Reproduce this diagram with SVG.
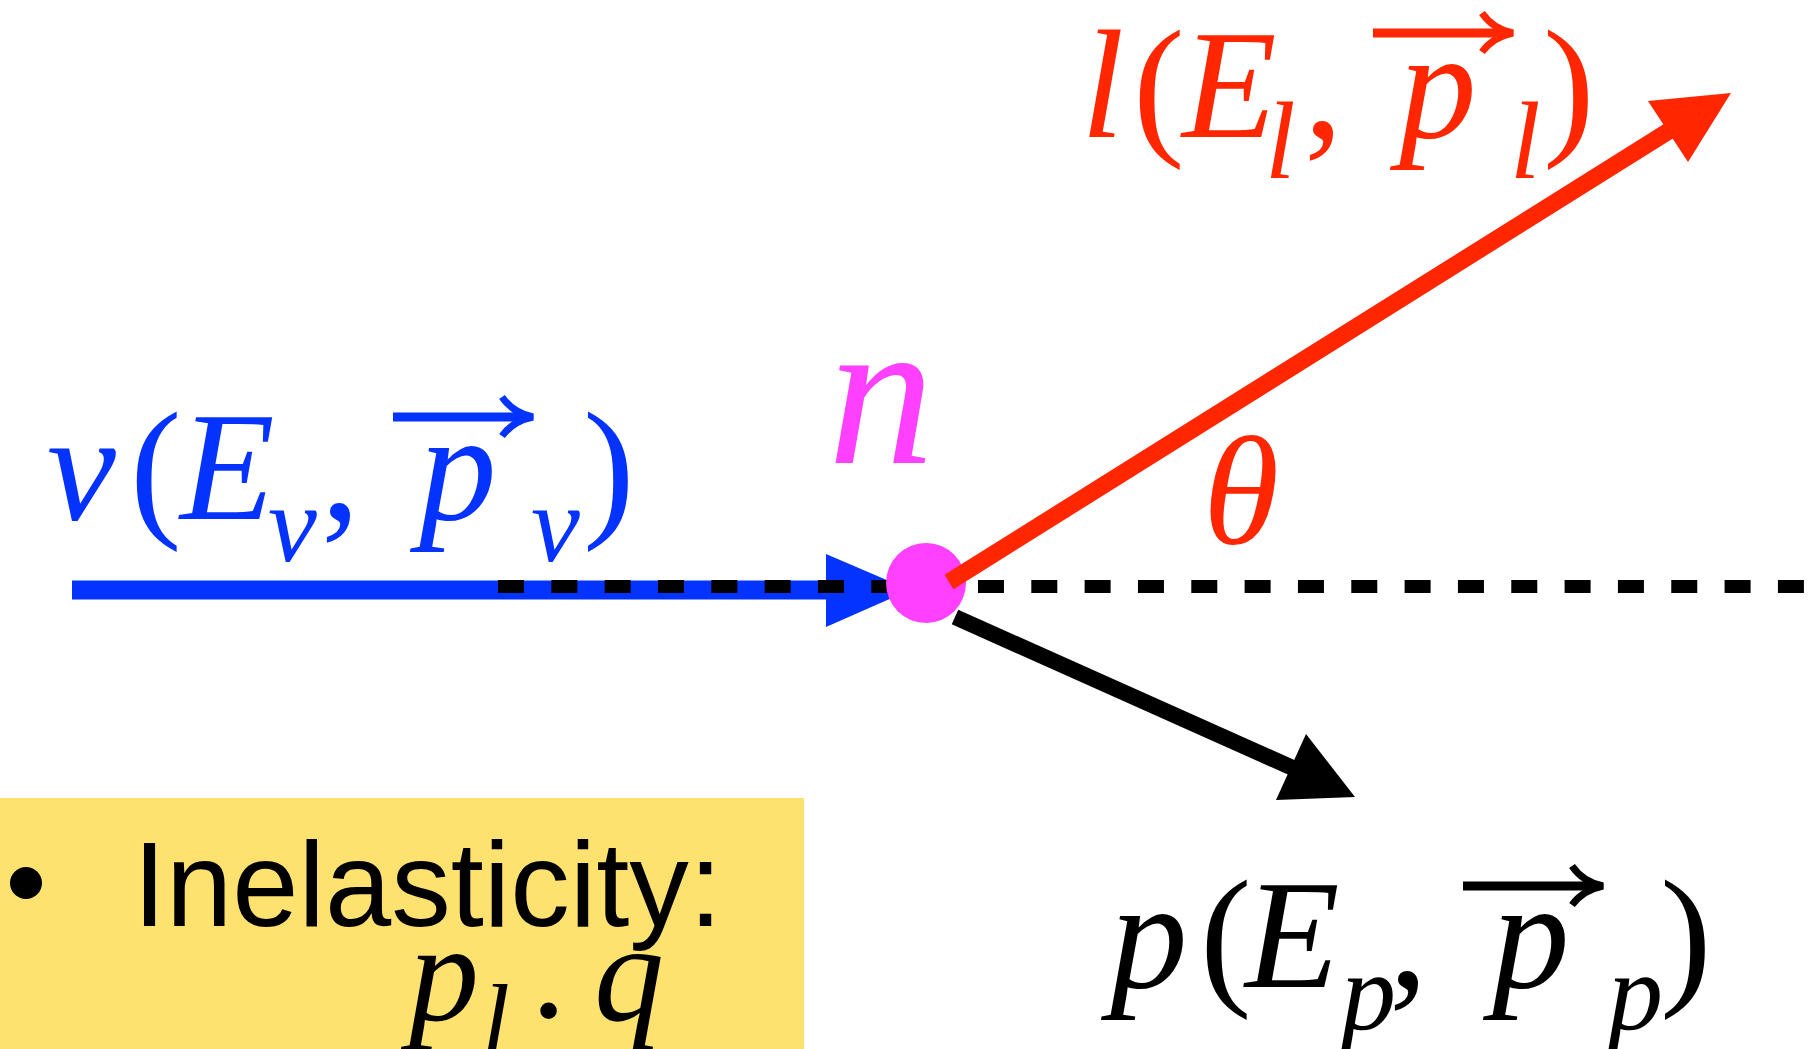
<svg xmlns="http://www.w3.org/2000/svg" xmlns:xlink="http://www.w3.org/1999/xlink" width="1819" height="1049" viewBox="0 0 1819 1049">
<style>
.m{font-family:"Liberation Serif","Times New Roman",serif;font-style:italic;font-size:155px}
.r{font-family:"Liberation Serif","Times New Roman",serif;font-style:normal;font-size:155px}
.s{font-family:"Liberation Serif","Times New Roman",serif;font-style:italic;font-size:110px}
.blue{fill:#0433ff}.red{fill:#ff2600}.blk{fill:#000}.pink{fill:#ff40ff}
</style>
<defs>
<g id="vec">
<line x1="-140" y1="0" x2="-6" y2="0" stroke-width="9"/>
<path d="M-31,-20 Q-20,-4 0,0 Q-20,4 -31,19" fill="none" stroke-width="7"/>
</g>
</defs>
<rect id="box" x="0" y="798" width="804" height="251" fill="#fee270"/>
<g id="connectors">
<line x1="72" y1="590" x2="840" y2="590" stroke="#0433ff" stroke-width="19"/>
<polygon points="826,554 910,590 826,627" fill="#0433ff"/>
<line x1="498" y1="586.5" x2="1819" y2="586.5" stroke="#000" stroke-width="13" stroke-dasharray="26 27.33"/>
</g>
<g id="node-n">
<circle cx="926" cy="583" r="40" fill="#ff40ff"/>
<text class="m pink" x="828" y="463" style="font-size:212px">n</text>
</g>
<g id="lepton">
<line x1="949" y1="582" x2="1672" y2="129" stroke="#ff2600" stroke-width="17"/>
<polygon points="1731,93 1648,101 1688,162" fill="#ff2600"/>
<text class="m red" x="1203" y="543">θ</text>
</g>
<g id="proton">
<line x1="955" y1="617" x2="1295" y2="769" stroke="#000" stroke-width="16"/>
<polygon points="1355,797 1276,800 1306,734" fill="#000"/>
</g>
<g id="label-nu" class="blue">
<text class="m" x="47" y="519">ν</text>
<text class="r" x="130" y="519">(</text>
<text class="m" x="180" y="519">E</text>
<text class="s" x="268" y="561">ν</text>
<text class="r" x="321" y="519">,</text>
<text class="m" x="419" y="519">p</text>
<use xlink:href="#vec" x="533" y="417" stroke="#0433ff"/>
<text class="s" x="531" y="561">ν</text>
<text class="r" x="583" y="519">)</text>
</g>
<g id="label-l" class="red">
<text class="m" x="1081" y="137">l</text>
<text class="r" x="1133" y="137">(</text>
<text class="m" x="1182" y="137">E</text>
<text class="s" x="1265" y="178">l</text>
<text class="r" x="1304" y="137">,</text>
<text class="m" x="1399" y="137">p</text>
<use xlink:href="#vec" x="1513" y="33" stroke="#ff2600"/>
<text class="s" x="1510" y="178">l</text>
<text class="r" x="1543" y="137">)</text>
</g>
<g id="label-p" class="blk">
<text class="m" x="1110" y="987">p</text>
<text class="r" x="1200" y="987">(</text>
<text class="m" x="1245" y="987">E</text>
<text class="s" x="1341" y="1030">p</text>
<text class="r" x="1389" y="987">,</text>
<text class="m" x="1492" y="987">p</text>
<use xlink:href="#vec" x="1603" y="886" stroke="#000"/>
<text class="s" x="1608" y="1030">p</text>
<text class="r" x="1660" y="987">)</text>
</g>
<g id="inelasticity">
<circle cx="26" cy="883" r="16" fill="#000"/>
<text x="133" y="926" style="font-family:'Liberation Sans',Arial,sans-serif;font-size:120px" textLength="589" lengthAdjust="spacingAndGlyphs">Inelasticity:</text>
<text class="m blk" x="409" y="1020" style="font-size:140px">p</text>
<text class="s blk" x="482" y="1053" style="font-size:100px">l</text>
<text class="m blk" x="529" y="1057" style="font-size:140px">·</text>
<text class="m blk" x="594" y="1020" style="font-size:140px">q</text>
</g>
</svg>
